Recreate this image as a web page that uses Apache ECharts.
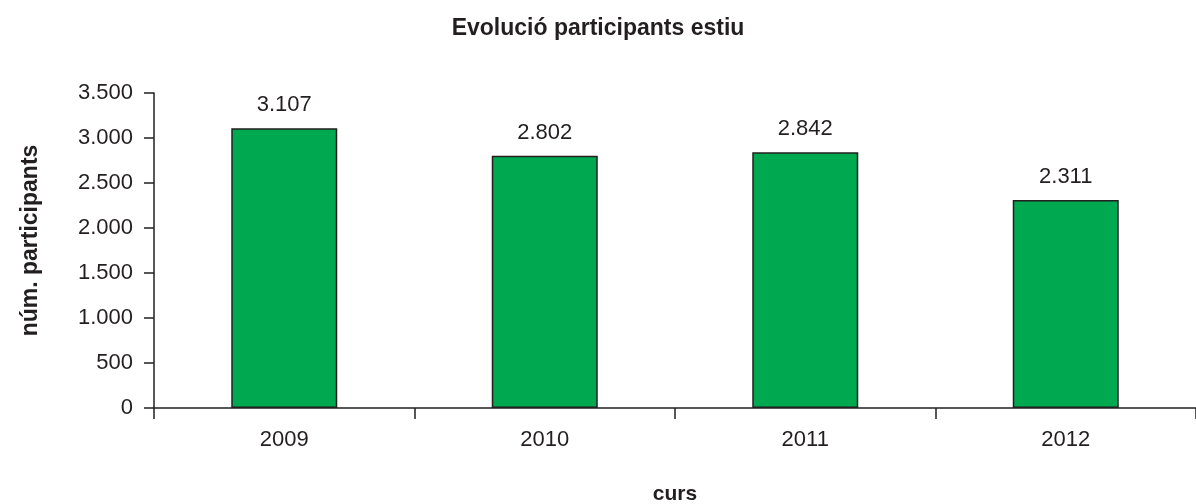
<!DOCTYPE html>
<html>
<head>
<meta charset="utf-8">
<script src="https://cdn.jsdelivr.net/npm/echarts@6/dist/echarts.min.js"></script>
<style>
html,body{margin:0;padding:0;background:#fff;}
#c{width:1196px;height:504px;}
</style>
</head>
<body>
<div id="c"></div>
<script>
const categories = ['2009', '2010', '2011', '2012'];
const participants = [3107, 2802, 2842, 2311];
const yTicks = [0, 500, 1000, 1500, 2000, 2500, 3000, 3500];

function fmt(v) {
  return String(v).replace(/\B(?=(\d{3})+(?!\d))/g, '.');
}

const FONT = '"Liberation Sans", Arial, sans-serif';
const INK = '#231f20';
const chart = echarts.init(document.getElementById('c'));
chart.setOption({
  animation: false,
  backgroundColor: '#fff',
  title: {
    text: 'Evolució participants estiu',
    left: 'center',
    top: 12,
    textStyle: { fontFamily: FONT, fontSize: 23, fontWeight: 'bold', color: INK }
  },
  grid: { left: 154, right: 0, top: 93, bottom: 96, containLabel: false, outerBoundsMode: 'none' },
  xAxis: {
    type: 'category',
    data: categories,
    name: 'curs',
    nameLocation: 'middle',
    nameGap: 76,
    nameTextStyle: { fontFamily: FONT, fontSize: 21, fontWeight: 'bold', color: INK },
    axisLine: { lineStyle: { color: INK, width: 1.5 } },
    axisTick: { show: true, length: 11, lineStyle: { color: INK, width: 1.5 } },
    axisLabel: { fontFamily: FONT, fontSize: 22, color: INK, margin: 21 }
  },
  yAxis: {
    type: 'value',
    min: yTicks[0],
    max: yTicks[yTicks.length - 1],
    interval: 500,
    name: 'núm. participants',
    nameLocation: 'middle',
    nameGap: 112,
    nameRotate: 90,
    nameTextStyle: { fontFamily: FONT, fontSize: 23, fontWeight: 'bold', color: INK, padding: [0, 0, 0, 20] },
    axisLine: { show: true, lineStyle: { color: INK, width: 1.5 } },
    axisTick: { show: true, length: 10, lineStyle: { color: INK, width: 1.5 } },
    splitLine: { show: false },
    axisLabel: { fontFamily: FONT, fontSize: 22, color: INK, margin: 21, formatter: fmt }
  },
  series: [{
    type: 'bar',
    data: participants,
    barWidth: 106,
    itemStyle: { color: '#00a84f', borderColor: INK, borderWidth: 1.5 },
    label: {
      show: true,
      position: 'top',
      distance: 12,
      fontFamily: FONT,
      fontSize: 22,
      color: INK,
      formatter: p => fmt(p.value)
    }
  }]
});
</script>
</body>
</html>
